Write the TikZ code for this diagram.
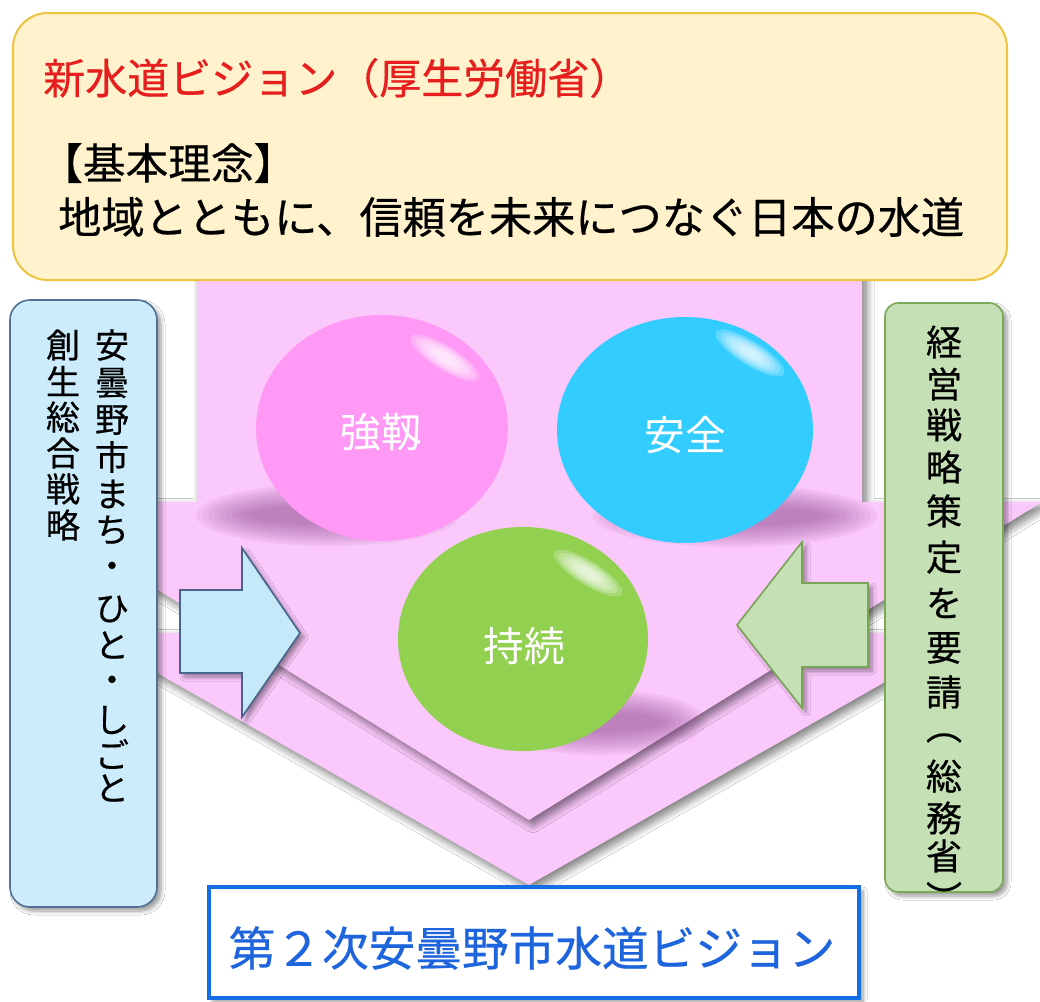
\documentclass[tikz,border=0pt]{standalone}
\usepackage{fontspec}
\setmainfont{Noto Sans CJK JP}
\newfontfamily\jpbold{Noto Sans CJK JP}[FakeBold=0.5]
\usetikzlibrary{shadows.blur,shapes.geometric}
\definecolor{pinkbg}{RGB}{250,200,250}
\definecolor{ballpink}{RGB}{255,153,245}
\definecolor{ballcyan}{RGB}{51,204,255}
\definecolor{ballgreen}{RGB}{146,208,80}
\definecolor{topfill}{RGB}{255,242,204}
\definecolor{topdraw}{RGB}{236,196,64}
\definecolor{leftfill}{RGB}{204,236,252}
\definecolor{leftdraw}{RGB}{84,110,150}
\definecolor{rightfill}{RGB}{197,224,180}
\definecolor{rightdraw}{RGB}{122,168,88}
\definecolor{barrowfill}{RGB}{198,233,250}
\definecolor{barrowdraw}{RGB}{70,100,140}
\definecolor{garrowdraw}{RGB}{120,165,85}
\definecolor{redtxt}{RGB}{230,30,30}
\definecolor{bottomblue}{RGB}{20,110,230}
\definecolor{bottomtxt}{RGB}{30,100,220}
\definecolor{ballshadow}{RGB}{140,70,140}
\tikzset{
  softshadow/.style={blur shadow={shadow xshift=3pt, shadow yshift=-3.5pt, shadow blur radius=6pt, shadow blur steps=12, shadow opacity=55}},
  boxshadow/.style={blur shadow={shadow xshift=3pt, shadow yshift=-3pt, shadow blur radius=3pt, shadow blur steps=8, shadow opacity=40}},
  balltext/.style={text=white, font=\fontsize{30.5}{32}\selectfont, inner sep=0pt},
  lefttext/.style={text=black, font=\jpbold\fontsize{25.5}{27}\selectfont, inner sep=0pt},
  righttext/.style={text=black, font=\jpbold\fontsize{27}{29}\selectfont, inner sep=0pt},
}
\begin{document}
\begin{tikzpicture}[x=0.75pt,y=-0.75pt]
\useasboundingbox (0,0) rectangle (1040,1001);
\fill[white] (0,0) rectangle (1040,1001);

% lower chevron
\fill[pinkbg, softshadow] (87,633) -- (971,633) -- (529,885) -- cycle;
% down arrow (stem + head)
\fill[pinkbg, softshadow] (197,265) -- (862,265) -- (862,502) -- (1042,502) -- (529,820) -- (16,502) -- (197,502) -- cycle;

% top box
\node[draw=topdraw, line width=1.5pt, fill=topfill, rounded corners=26pt,
      minimum width=745.5pt, minimum height=200.25pt, inner sep=0pt] (top) at (510,146.5) {};
\node[anchor=west, inner sep=0pt, text=redtxt, font=\jpbold\fontsize{31.5}{34}\selectfont] (title) at (43,78) {新水道ビジョン（厚生労働省）};
\node[anchor=west, inner sep=0pt, text=black, font=\jpbold\fontsize{32}{34}\selectfont] (kihon) at (40,163) {【基本理念】};
\node[anchor=west, inner sep=0pt, text=black, font=\jpbold\fontsize{32.4}{34}\selectfont] (rinen) at (58,217) {地域とともに、信頼を未来につなぐ日本の水道};

% ball shadows
\foreach \k in {0,...,9} {
  \fill[ballshadow, opacity=0.07] (328,515) ellipse [x radius={132-6*\k}, y radius={31-2.4*\k}];
  \fill[ballshadow, opacity=0.07] (735,516) ellipse [x radius={142-6*\k}, y radius={31-2.4*\k}];
  \fill[ballshadow, opacity=0.07] (598,722) ellipse [x radius={108-5*\k}, y radius={33-2.6*\k}];
}

% balls
\node[ellipse, fill=ballpink, minimum width=189pt, minimum height=169.5pt, inner sep=0pt] (kyojin) at (382,428) {};
\node[ellipse, fill=ballcyan, minimum width=192pt, minimum height=169.5pt, inner sep=0pt] (anzen) at (685,430) {};
\node[ellipse, fill=ballgreen, minimum width=187.5pt, minimum height=168pt, inner sep=0pt] (jizoku) at (523,639) {};

% highlights
\foreach \cx/\cy in {445/358, 750/353, 588/573} {
  \foreach \k in {0,...,5} {
    \fill[white, opacity=0.22, rotate around={-32:(\cx,\cy)}] (\cx,\cy) ellipse [x radius={40-5.5*\k}, y radius={12-1.6*\k}];
  }
}

\node[balltext] (t-kyojin) at (381,432) {強靱};
\node[balltext] (t-anzen) at (685,435) {安全};
\node[balltext] (t-jizoku) at (524,646) {持続};

% left box
\node[draw=leftdraw, line width=1.2pt, fill=leftfill, rounded corners=15pt, boxshadow,
      minimum width=110.25pt, minimum height=455.25pt, inner sep=0pt] (lbox) at (83.5,603.5) {};
\foreach \c/\yy [count=\i] in {安/345,曇/383,野/420,市/457,ま/494,ち/530,・/570,ひ/609,と/645,・/684,し/720,ご/754,と/788} {
  \node[lefttext] (la\i) at (112,\yy) {\c};
}
\foreach \c [count=\i] in {創,生,総,合,戦,略} {
  \node[lefttext] (lb\i) at (63,{345+36*(\i-1)}) {\c};
}

% right box
\node[draw=rightdraw, line width=1.2pt, fill=rightfill, rounded corners=10pt, boxshadow,
      minimum width=88.5pt, minimum height=441.75pt, inner sep=0pt] (rbox) at (944,597.5) {};
\foreach \c/\yy [count=\i] in {経/342,営/384,戦/425,略/467,策/511,定/557,を/603,要/648,請/692,︵/738,総/776,務/818,省/856,︶/897} {
  \node[righttext] (ra\i) at (944,\yy) {\c};
}

% block arrows
\draw[draw=barrowdraw, line width=1.2pt, fill=barrowfill, line join=miter, boxshadow]
  (180,590) -- (242,590) -- (242,548) -- (300,633) -- (242,717) -- (242,673) -- (180,673) -- cycle;
\draw[draw=garrowdraw, line width=1.2pt, fill=rightfill, line join=miter, boxshadow]
  (868,583) -- (802,583) -- (802,542) -- (737,625) -- (802,708) -- (802,667) -- (868,667) -- cycle;

% bottom box
\node[draw=bottomblue, line width=3pt, fill=white, boxshadow,
      minimum width=487.5pt, minimum height=83.25pt, inner sep=0pt] (bottom) at (534,942.5) {};
\node[inner sep=0pt, text=bottomtxt, font=\jpbold\fontsize{35}{38}\selectfont] (btext) at (532,948) {第２次安曇野市水道ビジョン};
\end{tikzpicture}
\end{document}
